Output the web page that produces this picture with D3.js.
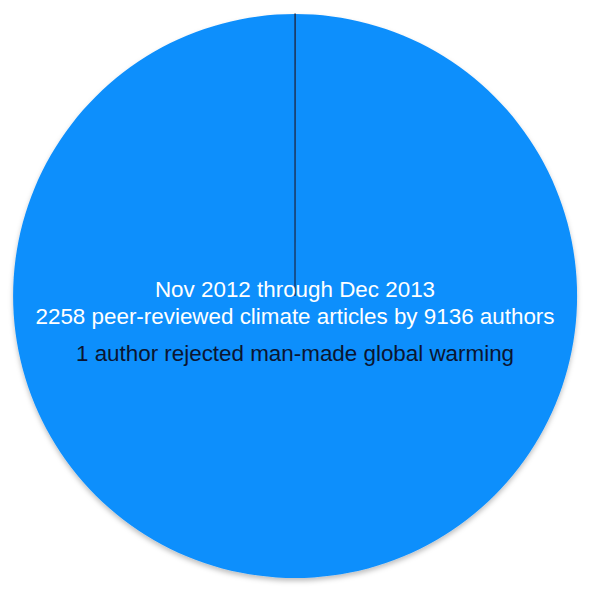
<!DOCTYPE html>
<html>
<head>
<meta charset="utf-8">
<script src="https://cdn.jsdelivr.net/npm/d3@7"></script>
<style>
  body { margin: 0; background: #fff; }
</style>
</head>
<body>
<div id="body"></div>
<script>
// authors by position on man-made global warming
var categories = ['Rejected', 'Accepted'];
var authors = [1, 9135];
var colors = ['#1a2a4a', '#118ffc'];
var titleLines = [
  'Nov 2012 through Dec 2013',
  '2258 peer-reviewed climate articles by 9136 authors'
];
var note = '1 author rejected man-made global warming';

var width = 590, height = 590;
var cx = 295, cy = 296, radius = 282;

var svg = d3.select('#body')
    .append('svg')
    .attr('width', width)
    .attr('height', height);

// soft shadow under the pie
var filter = svg.append('defs').append('filter')
    .attr('id', 'shadow')
    .attr('x', '-10%').attr('y', '-10%')
    .attr('width', '120%').attr('height', '120%');
filter.append('feDropShadow')
    .attr('dx', 0).attr('dy', 3)
    .attr('stdDeviation', 2.5)
    .attr('flood-color', '#000')
    .attr('flood-opacity', 0.25);

var g = svg.append('g')
    .attr('transform', 'translate(' + cx + ',' + cy + ')');

var pie = d3.pie().sort(null).value(function (d) { return d; });
var arc = d3.arc().innerRadius(0).outerRadius(radius);

var slices = g.selectAll('path')
    .data(pie(authors))
    .enter()
    .append('path')
    .attr('d', arc)
    .attr('fill', function (d, i) { return colors[i]; })
    .attr('stroke', function (d, i) { return i === 0 ? colors[0] : 'none'; })
    .attr('stroke-width', 1.2);

g.select('path:nth-child(2)').attr('filter', 'url(#shadow)');
// keep the tiny slice on top
slices.filter(function (d, i) { return i === 0; }).raise();

var text = g.append('g')
    .attr('font-family', 'Liberation Sans, Arial, sans-serif')
    .attr('font-size', '22.4px')
    .attr('text-anchor', 'middle');

text.selectAll('text.title')
    .data(titleLines)
    .enter()
    .append('text')
    .attr('class', 'title')
    .attr('x', 0)
    .attr('y', function (d, i) { return 1 + i * 27; })
    .attr('fill', '#fff')
    .text(function (d) { return d; });

text.append('text')
    .attr('x', 0)
    .attr('y', 65)
    .attr('fill', '#0b1530')
    .text(note);
</script>
</body>
</html>
